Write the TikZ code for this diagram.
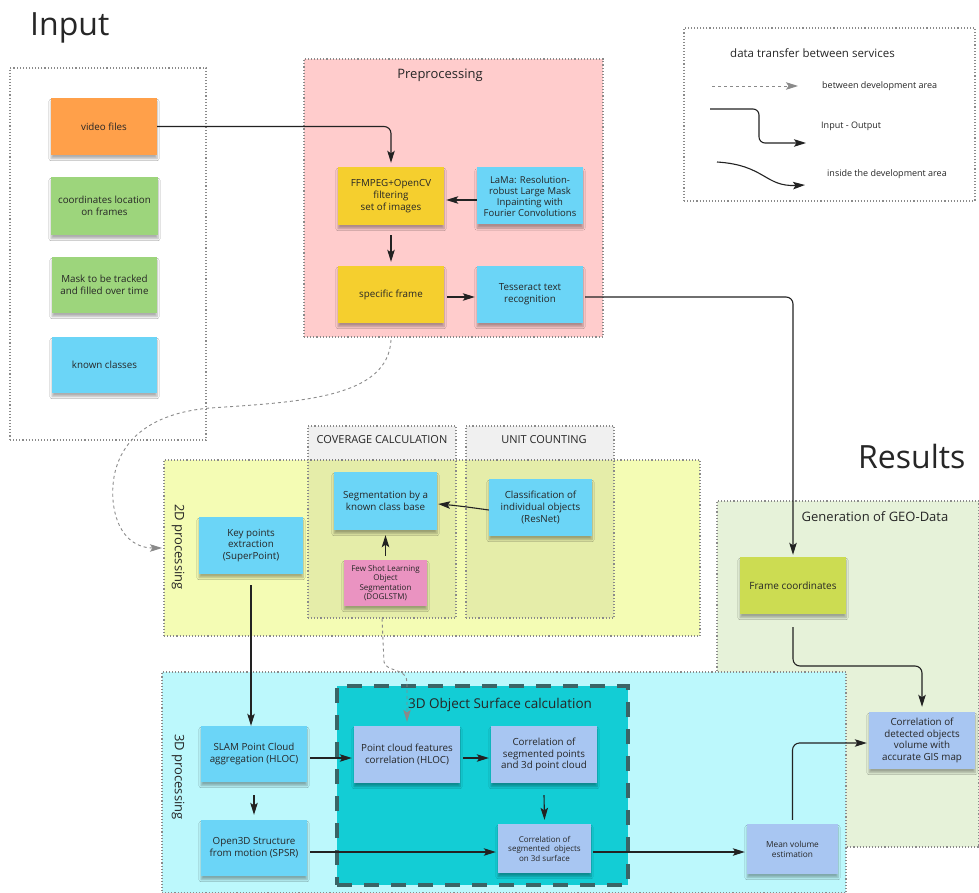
\documentclass[tikz,border=0pt]{standalone}
\usepackage{fontspec}
\setmainfont{Open Sans}
\usetikzlibrary{arrows.meta,shadows.blur,calc}
\definecolor{corange}{HTML}{FFA04A}
\definecolor{cgreen}{HTML}{9DD57C}
\definecolor{cblue}{HTML}{6BD5F7}
\definecolor{cyellow}{HTML}{F5CF2E}
\definecolor{cpink}{HTML}{EA93C1}
\definecolor{clblue}{HTML}{A8C6F2}
\definecolor{cframe}{HTML}{CCDC52}
\definecolor{bgpre}{HTML}{FFCCCC}
\definecolor{bgtwo}{HTML}{F4FCB4}
\definecolor{bggeo}{HTML}{E6F2D9}
\definecolor{bgthree}{HTML}{BCF8FC}
\definecolor{bgobj}{HTML}{13CDD5}
\definecolor{objborder}{HTML}{3A6466}
\definecolor{txt}{HTML}{262626}
\definecolor{linec}{HTML}{222222}
\definecolor{dotc}{HTML}{8A8A8A}
\begin{document}
\begin{tikzpicture}[x=1pt,y=-1pt,
  sticky/.style={rectangle, inner sep=2pt, align=center, text=txt,
    font=\fontsize{9.8}{11.8}\selectfont,
    blur shadow={shadow xshift=0pt, shadow yshift=-3.5pt, shadow opacity=32, shadow blur steps=6}},
  container/.style={rectangle, draw=dotc, dotted, line width=1.1pt, inner sep=0pt},
  arr/.style={draw=linec, line width=1.1pt, -{Stealth[length=12pt,width=7.5pt,inset=2.5pt]}},
  darr/.style={draw=dotc, dashed, line width=0.9pt, -{Stealth[length=12pt,width=7.5pt,inset=2.5pt]}},
  title/.style={text=txt, inner sep=0pt}
]
\useasboundingbox (0,0) rectangle (979,893);
\fill[white] (0,0) rectangle (979,893);

% ---------- containers ----------
\node[container, minimum width=196pt, minimum height=372pt] (inputc) at (108,254) {};
\node[container, fill=bgpre, minimum width=299pt, minimum height=278pt] (prec) at (453.5,198) {};
\node[container, minimum width=291pt, minimum height=173pt] (legc) at (829.5,114.5) {};
\node[container, fill=bgtwo, minimum width=536pt, minimum height=176pt] (twoc) at (432,548) {};
\node[container, fill=black, fill opacity=0.06, minimum width=148pt, minimum height=192pt] (covc) at (382,522) {};
\node[container, fill=black, fill opacity=0.06, minimum width=148pt, minimum height=192pt] (unitc) at (540,522) {};
\node[container, fill=bggeo, minimum width=262pt, minimum height=346pt] (geoc) at (848,674) {};
\node[container, fill=bgthree, minimum width=684pt, minimum height=221pt] (threec) at (504,782.5) {};
\node[rectangle, fill=bgobj, draw=objborder, line width=4pt, dash pattern=on 15pt off 12pt,
  minimum width=291pt, minimum height=199pt, inner sep=0pt] (objc) at (482.5,785.5) {};

% ---------- titles ----------
\node[title, anchor=base west, font=\fontsize{32}{36}\selectfont] (tinput) at (30,36) {Input};
\node[title, anchor=base west, font=\fontsize{32}{36}\selectfont] (tresults) at (858,468) {Results};
\node[title, font=\fontsize{13}{15}\selectfont] (tpre) at (440,75) {Preprocessing};
\node[title, font=\fontsize{11}{13}\selectfont] (tcov) at (382,440) {COVERAGE CALCULATION};
\node[title, font=\fontsize{11}{13}\selectfont] (tunit) at (544,440) {UNIT COUNTING};
\node[title, font=\fontsize{13}{15}\selectfont] (tgeo) at (875,517) {Generation of GEO-Data};
\node[title, font=\fontsize{13.5}{15}\selectfont] (tobj) at (500,705) {3D Object Surface calculation};
\node[title, font=\fontsize{13}{15}\selectfont, rotate=-90] (ttwo) at (178,547) {2D processing};
\node[title, font=\fontsize{13}{15}\selectfont, rotate=-90] (tthree) at (178,777) {3D processing};

% ---------- legend ----------
\node[title, anchor=west, font=\fontsize{11.5}{13}\selectfont] (lt) at (730,53) {data transfer between services};
\node[title, anchor=west, font=\fontsize{9}{11}\selectfont] (l1) at (822,86) {between development area};
\node[title, anchor=west, font=\fontsize{9}{11}\selectfont] (l2) at (821,126) {Input - Output};
\node[title, anchor=west, font=\fontsize{9}{11}\selectfont] (l3) at (827,174) {inside the development area};
\coordinate (la1) at (712,86);
\coordinate (lb1) at (798,86);
\coordinate (la2) at (710,109);
\coordinate (lm2) at (759,126);
\coordinate (lb2) at (806,143);
\coordinate (la3) at (717,162);
\coordinate (lb3) at (805,185);
\draw[darr] (la1) -- (lb1);
\draw[arr, rounded corners=6pt] (la2) -| (lm2) |- (lb2);
\draw[arr] (la3) .. controls (765,165) and (765,187) .. (lb3);

% ---------- input notes ----------
\node[sticky, fill=corange, minimum width=106pt, minimum height=57pt] (video) at (104,126.5) {video files};
\node[sticky, fill=cgreen, minimum width=107pt, minimum height=58pt] (coords) at (104.5,206) {coordinates location\\on frames};
\node[sticky, fill=cgreen, minimum width=105pt, minimum height=56pt] (mask) at (104.5,285) {Mask to be tracked\\and filled over time};
\node[sticky, fill=cblue, minimum width=105pt, minimum height=56pt] (known) at (104.5,365) {known classes};

% ---------- preprocessing ----------
\node[sticky, fill=cyellow, minimum width=106pt, minimum height=58pt] (ffmpeg) at (391,196) {FFMPEG+OpenCV\\filtering\\set of images};
\node[sticky, fill=cblue, minimum width=106pt, minimum height=57pt, font=\fontsize{9.5}{11}\selectfont] (lama) at (530,196) {LaMa: Resolution-\\robust Large Mask\\Inpainting with\\Fourier Convolutions};
\node[sticky, fill=cyellow, minimum width=106pt, minimum height=57pt] (specific) at (391,294.5) {specific frame};
\node[sticky, fill=cblue, minimum width=106pt, minimum height=57pt] (tess) at (530,294.5) {Tesseract text\\recognition};

% ---------- 2D ----------
\node[sticky, fill=cblue, minimum width=104pt, minimum height=57pt] (keyp) at (251,545.5) {Key points\\extraction\\(SuperPoint)};
\node[sticky, fill=cblue, minimum width=103pt, minimum height=58pt] (segm) at (385.5,501) {Segmentation by a\\known class base};
\node[sticky, fill=cblue, minimum width=103pt, minimum height=57pt] (classif) at (540.5,507.5) {Classification of\\individual objects\\(ResNet)};
\node[sticky, fill=cpink, minimum width=83pt, minimum height=46pt, font=\fontsize{8}{9.5}\selectfont] (fewshot) at (385.5,583) {Few Shot Learning\\Object\\Segmentation\\(DOGLSTM)};

% ---------- GEO ----------
\node[sticky, fill=cframe, minimum width=106pt, minimum height=57pt, font=\fontsize{10}{12}\selectfont] (framec) at (793,585.5) {Frame coordinates};
\node[sticky, fill=clblue, minimum width=106pt, minimum height=57pt] (gis) at (922,740.5) {Correlation of\\detected objects\\volume with\\accurate GIS map};

% ---------- 3D ----------
\node[sticky, fill=cblue, minimum width=106pt, minimum height=56pt] (slam) at (254,754) {SLAM Point Cloud\\aggregation (HLOC)};
\node[sticky, fill=cblue, minimum width=106pt, minimum height=56pt] (open3d) at (254,848) {Open3D Structure\\from motion (SPSR)};
\node[sticky, fill=clblue, minimum width=106pt, minimum height=57pt] (pcf) at (407,754.5) {Point cloud features\\correlation (HLOC)};
\node[sticky, fill=clblue, minimum width=106pt, minimum height=57pt] (corrpts) at (544,754.5) {Correlation of\\segmented points\\and 3d point cloud};
\node[sticky, fill=clblue, minimum width=93pt, minimum height=49pt, font=\fontsize{8}{9.5}\selectfont] (corrobj) at (544.5,848.5) {Correlation of\\segmented\ \ objects\\on 3d surface};
\node[sticky, fill=clblue, minimum width=91pt, minimum height=50pt, font=\fontsize{8.3}{10}\selectfont] (meanvol) at (792.5,849) {Mean volume\\estimation};

% ---------- connectors ----------
\draw[arr, rounded corners=7pt] (video.east) -| ([yshift=4pt]ffmpeg.north);
\draw[arr] ([yshift=-4pt]lama.west) -- ([xshift=2pt,yshift=-4pt]ffmpeg.east);
\draw[arr] ([yshift=-10pt]ffmpeg.south) -- ([yshift=4pt]specific.north);
\draw[arr] ([xshift=3pt,yshift=-2.5pt]specific.east) -- ([xshift=-2pt,yshift=-2.5pt]tess.west);
\draw[arr, rounded corners=7pt] ([xshift=2pt,yshift=-2.5pt]tess.east) -| ([yshift=2pt]framec.north);

\coordinate (dstart) at (391,340);
\coordinate (dend) at (162,548);
\draw[darr] (dstart) .. controls (388,398) and (300,402) .. (210,408)
  .. controls (130,415) and (110,460) .. (113,500)
  .. controls (116,535) and (135,548) .. (dend);

\draw[arr] ([yshift=-2.5pt]classif.west) to[out=172,in=-5] ([xshift=1pt,yshift=-3pt]segm.east);
\draw[arr] ([yshift=4pt]fewshot.north) -- ([yshift=-5pt]segm.south);
\draw[arr] ([yshift=-11pt]keyp.south) -- (keyp.south |- slam.north);

\coordinate (cvk) at (384,662);
\draw[darr] (covc.south) -- (cvk) .. controls (386,672) and (407,668) .. (407,682) -- ([yshift=4pt]pcf.north);

\coordinate (fgk) at (858,666);
\draw[arr, rounded corners=7pt] ([yshift=-13pt]framec.south) |- (fgk) -| ([yshift=5pt]gis.north);
\draw[arr, rounded corners=7pt] ([yshift=4pt]meanvol.north) |- ([xshift=-2pt,yshift=-2.5pt]gis.west);

\draw[arr] ([xshift=3pt,yshift=-4pt]slam.east) -- ([xshift=-2pt,yshift=-3.5pt]pcf.west);
\draw[arr] ([xshift=3pt,yshift=-3.5pt]pcf.east) -- ([xshift=-2pt,yshift=-3.5pt]corrpts.west);
\draw[arr] ([yshift=-12pt]corrpts.south) -- ([yshift=4pt]corrobj.north);
\draw[arr] ([yshift=-13pt]slam.south) -- ([yshift=5pt]open3d.north);
\draw[arr] ([xshift=3pt,yshift=-4pt]open3d.east) -- ([xshift=-2pt,yshift=-3.5pt]corrobj.west);
\draw[arr] ([xshift=2pt,yshift=-3.5pt]corrobj.east) -- ([xshift=-2pt,yshift=-3pt]meanvol.west);
\end{tikzpicture}
\end{document}
